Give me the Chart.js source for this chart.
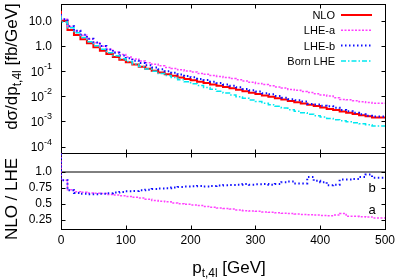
<!DOCTYPE html>
<html>
<head>
<meta charset="utf-8">
<script src="https://cdn.jsdelivr.net/npm/chart.js@4.4.1/dist/chart.umd.min.js"></script>
<style>
  html, body { margin: 0; padding: 0; background: #fff; }
  #wrap { width: 399px; height: 279px; position: relative; }
</style>
</head>
<body>
<div id="wrap"><canvas id="chart"></canvas></div>
<script>
// Histogram bins (lower edges, GeV), 10 GeV wide, last edge 500
const binLow = [0, 10, 20, 30, 40, 50, 60, 70, 80, 90,
  100, 110, 120, 130, 140, 150, 160, 170, 180, 190,
  200, 210, 220, 230, 240, 250, 260, 270, 280, 290,
  300, 310, 320, 330, 340, 350, 360, 370, 380, 390,
  400, 410, 420, 430, 440, 450, 460, 470, 480, 490];
const binEnd = 500;

// dsigma/dpt [fb/GeV]
const nlo = [25.1, 10.0, 4.27, 2.69, 1.82, 1.26, 0.891, 0.646, 0.479, 0.363,
  0.282, 0.224, 0.182, 0.148, 0.123, 0.102, 0.0871, 0.0741, 0.0646, 0.0562,
  0.0490, 0.0437, 0.0380, 0.0339, 0.0295, 0.0263, 0.0234, 0.0209, 0.0182, 0.0158,
  0.0138, 0.0123, 0.0107, 0.00955, 0.00832, 0.00741, 0.00646, 0.00575, 0.00513, 0.00457,
  0.00407, 0.00355, 0.00316, 0.00282, 0.00251, 0.00224, 0.00200, 0.00178, 0.00162, 0.00145];
const lheA = [18.6, 11.5, 5.93, 3.90, 2.67, 1.88, 1.34, 0.977, 0.741, 0.571,
  0.451, 0.364, 0.303, 0.251, 0.216, 0.186, 0.161, 0.140, 0.126, 0.112,
  0.100, 0.0910, 0.0809, 0.0745, 0.0664, 0.0612, 0.0552, 0.0504, 0.0455, 0.0406,
  0.0359, 0.0324, 0.0290, 0.0262, 0.0234, 0.0212, 0.0187, 0.0172, 0.0155, 0.0141,
  0.0127, 0.0113, 0.0102, 0.00881, 0.00740, 0.00720, 0.00665, 0.00603, 0.00560, 0.00526];
const lheB = [18.6, 11.5, 6.01, 4.02, 2.78, 1.94, 1.37, 0.986, 0.719, 0.538,
  0.411, 0.322, 0.260, 0.208, 0.171, 0.140, 0.118, 0.0995, 0.0855, 0.0735,
  0.0637, 0.0564, 0.0488, 0.0441, 0.0378, 0.0335, 0.0296, 0.0263, 0.0228, 0.0196,
  0.0173, 0.0153, 0.0132, 0.0119, 0.0103, 0.00883, 0.00760, 0.00701, 0.00625, 0.00497,
  0.00474, 0.00423, 0.00400, 0.00352, 0.00286, 0.00255, 0.00224, 0.00193, 0.00169, 0.00159];
const bornLhe = [15.8, 8.91, 5.25, 3.31, 2.14, 1.45, 1.02, 0.741, 0.537, 0.407,
  0.309, 0.240, 0.191, 0.151, 0.120, 0.0977, 0.0794, 0.0661, 0.0550, 0.0457,
  0.0380, 0.0316, 0.0269, 0.0224, 0.0191, 0.0158, 0.0135, 0.0112, 0.00955, 0.00832,
  0.00708, 0.00617, 0.00525, 0.00457, 0.00398, 0.00339, 0.00295, 0.00257, 0.00224, 0.00195,
  0.00170, 0.00151, 0.00132, 0.00117, 0.00107, 0.000977, 0.000891, 0.000813, 0.000741, 0.000661];

// NLO / LHE ratios
const ratioA = [1.35, 0.87, 0.72, 0.69, 0.68, 0.67, 0.665, 0.66, 0.645, 0.635,
  0.625, 0.615, 0.60, 0.59, 0.57, 0.55, 0.54, 0.53, 0.51, 0.50,
  0.49, 0.48, 0.47, 0.455, 0.445, 0.43, 0.425, 0.415, 0.40, 0.39,
  0.385, 0.38, 0.37, 0.365, 0.355, 0.35, 0.345, 0.335, 0.33, 0.325,
  0.32, 0.315, 0.31, 0.32, 0.345, 0.30, 0.30, 0.295, 0.29, 0.275];
const ratioB = [1.35, 0.87, 0.71, 0.67, 0.655, 0.65, 0.65, 0.655, 0.665, 0.675,
  0.685, 0.695, 0.70, 0.71, 0.72, 0.73, 0.74, 0.745, 0.755, 0.765,
  0.77, 0.775, 0.78, 0.77, 0.78, 0.785, 0.79, 0.795, 0.80, 0.81,
  0.80, 0.805, 0.81, 0.80, 0.81, 0.84, 0.85, 0.82, 0.82, 0.92,
  0.86, 0.84, 0.79, 0.80, 0.88, 0.88, 0.89, 0.92, 0.96, 0.91];
const ratioRef = 1.0;

// Ticks
const xTicks = [0, 100, 200, 300, 400, 500];
const upperTicks = [10, 1, 0.1, 0.01, 0.001, 0.0001];
const upperTickLabels = ['10.0', '1.0', '10^-1', '10^-2', '10^-3', '10^-4'];
const ratioTicks = [0.25, 0.5, 0.75, 1.0];
const ratioTickLabels = ['0.25', '0.5', '0.75', '1.0'];

const FONT = '"Liberation Sans", Arial, Helvetica, sans-serif';
const TICK = 4;

function steps(vals) {
  const pts = binLow.map((x, i) => ({ x: x, y: vals[i] }));
  pts.push({ x: binEnd, y: vals[vals.length - 1] });
  return pts;
}

const base = { stepped: 'after', pointRadius: 0, fill: false, tension: 0, borderCapStyle: 'butt' };

const datasets = [
  { ...base, label: 'NLO', data: steps(nlo), yAxisID: 'y', borderColor: '#ff0000', borderWidth: 2, order: 4 },
  { ...base, label: 'LHE-a', data: steps(lheA), yAxisID: 'y', borderColor: '#ff40ff', borderWidth: 1.5, borderDash: [2, 1.5], order: 3 },
  { ...base, label: 'LHE-b', data: steps(lheB), yAxisID: 'y', borderColor: '#1010ff', borderWidth: 2, borderDash: [1.5, 2.5], order: 2 },
  { ...base, label: 'Born LHE', data: steps(bornLhe), yAxisID: 'y', borderColor: '#00e8f0', borderWidth: 1.5, borderDash: [5, 2, 1.5, 2], order: 1 },
  { ...base, label: 'ref', data: [{ x: xTicks[0], y: ratioRef }, { x: binEnd, y: ratioRef }], yAxisID: 'y2', borderColor: '#000', borderWidth: 1, order: 9 },
  { ...base, label: 'a', data: steps(ratioA), yAxisID: 'y2', borderColor: '#ff40ff', borderWidth: 1.5, borderDash: [2, 1.5], order: 8 },
  { ...base, label: 'b', data: steps(ratioB), yAxisID: 'y2', borderColor: '#1010ff', borderWidth: 2, borderDash: [1.5, 2.5], order: 7 }
];

// draws text parts [text, 'sub'|'sup'|null] starting at x (left aligned), baseline y
function drawParts(ctx, parts, x, y, size, subSize) {
  let cx = x;
  parts.forEach(p => {
    const small = p[1] !== null;
    ctx.font = (small ? subSize : size) + 'px ' + FONT;
    const dy = p[1] === 'sub' ? size * 0.25 : (p[1] === 'sup' ? -size * 0.55 : 0);
    ctx.fillText(p[0], cx, y + dy);
    cx += ctx.measureText(p[0]).width;
  });
  return cx - x;
}
function partsWidth(ctx, parts, size, subSize) {
  let w = 0;
  parts.forEach(p => {
    ctx.font = (p[1] !== null ? subSize : size) + 'px ' + FONT;
    w += ctx.measureText(p[0]).width;
  });
  return w;
}

const framePlugin = {
  id: 'frame',
  beforeDatasetsDraw(chart) {
    const { ctx, scales: { x, y, y2 } } = chart;
    ctx.save();
    ctx.strokeStyle = '#000';
    ctx.lineWidth = 1;
    const L = Math.round(x.left) + 0.5, R = Math.round(x.right) + 0.5;
    [y, y2].forEach(s => {
      const T = Math.round(s.top) + 0.5, B = Math.round(s.bottom) + 0.5;
      ctx.strokeRect(L, T, R - L, B - T);
      ctx.beginPath();
      xTicks.forEach(v => {
        const px = Math.round(x.getPixelForValue(v)) + 0.5;
        ctx.moveTo(px, T); ctx.lineTo(px, T + TICK);
        ctx.moveTo(px, B); ctx.lineTo(px, B - TICK);
      });
      s.ticks.forEach(t => {
        const py = Math.round(s.getPixelForValue(t.value)) + 0.5;
        ctx.moveTo(L, py); ctx.lineTo(L + TICK, py);
        ctx.moveTo(R, py); ctx.lineTo(R - TICK, py);
      });
      ctx.stroke();
    });
    ctx.restore();
  },
  afterDraw(chart) {
    const { ctx, chartArea, scales: { x, y, y2 } } = chart;
    ctx.save();
    ctx.fillStyle = '#000';
    ctx.textBaseline = 'alphabetic';
    ctx.textAlign = 'left';

    // upper y tick labels with exponents
    upperTicks.forEach((v, i) => {
      const py = y.getPixelForValue(v);
      const lab = upperTickLabels[i].split('^');
      const parts = lab.length > 1 ? [[lab[0], null], [lab[1], 'sup']] : [[lab[0], null]];
      const w = partsWidth(ctx, parts, 12, 9);
      if (lab.length > 1) {
        ctx.font = '12px ' + FONT;
        ctx.fillText(lab[0], 52 - w, py + 4.5);
        const bw = ctx.measureText(lab[0]).width;
        ctx.font = '9px ' + FONT;
        ctx.fillText(lab[1], 52 - w + bw, py - 2);
      } else {
        drawParts(ctx, parts, 52 - w, py + 4.5, 12, 9);
      }
    });

    // axis titles
    const xt = [['p', null], ['t,4l', 'sub'], [' [GeV]', null]];
    const xw = partsWidth(ctx, xt, 17, 12);
    drawParts(ctx, xt, 229 - xw / 2, 273, 17, 12);

    const yt = [['dσ/dp', null], ['t,4l', 'sub'], [' [fb/GeV]', null]];
    const yw = partsWidth(ctx, yt, 17, 12);
    ctx.save();
    ctx.translate(16.5, (y.top + y.bottom) / 2 - 12);
    ctx.rotate(-Math.PI / 2);
    drawParts(ctx, yt, -yw / 2, 0, 17, 12);
    ctx.restore();

    const rt = [['NLO / LHE', null]];
    const rw = partsWidth(ctx, rt, 17, 12);
    ctx.save();
    ctx.translate(16.5, (y2.top + y2.bottom) / 2 + 8);
    ctx.rotate(-Math.PI / 2);
    drawParts(ctx, rt, -rw / 2, 0, 17, 12);
    ctx.restore();

    // legend (upper panel datasets)
    ctx.font = '11px ' + FONT;
    ctx.textAlign = 'right';
    chart.data.datasets.filter(d => d.yAxisID === 'y').forEach((d, i) => {
      const by = chartArea.top + 15 + i * 15.3;
      ctx.fillStyle = '#000';
      ctx.fillText(d.label, chartArea.right - 50, by);
      ctx.beginPath();
      ctx.strokeStyle = d.borderColor;
      ctx.lineWidth = d.borderWidth;
      ctx.setLineDash(d.borderDash || []);
      ctx.moveTo(chartArea.right - 44, by - 4);
      ctx.lineTo(chartArea.right - 13, by - 4);
      ctx.stroke();
      ctx.setLineDash([]);
    });

    // curve labels in ratio panel
    ctx.fillStyle = '#000';
    ctx.font = '13px ' + FONT;
    ctx.textAlign = 'center';
    ctx.textBaseline = 'middle';
    ctx.fillText('b', x.getPixelForValue(480), y2.getPixelForValue(0.735));
    ctx.fillText('a', x.getPixelForValue(480), y2.getPixelForValue(0.40));
    ctx.restore();
  }
};

function fixed(width, height) {
  return s => {
    if (width !== null) s.width = width;
    if (height !== null) s.height = height;
    s.paddingTop = 0; s.paddingBottom = 0; s.paddingLeft = 0; s.paddingRight = 0;
  };
}

new Chart(document.getElementById('chart'), {
  type: 'line',
  data: { datasets: datasets },
  options: {
    responsive: true,
    maintainAspectRatio: false,
    animation: false,
    devicePixelRatio: 1,
    layout: { padding: { top: 4, right: 14, left: 0, bottom: 0 } },
    plugins: { legend: { display: false }, tooltip: { enabled: false } },
    scales: {
      x: {
        type: 'linear', position: 'bottom', min: 0, max: 500, bounds: 'data',
        grid: { display: false, drawTicks: false }, border: { display: false },
        ticks: { color: '#000', font: { family: FONT, size: 12 }, padding: 4, maxRotation: 0, autoSkip: false },
        afterBuildTicks: s => { s.ticks = xTicks.map(v => ({ value: v })); },
        afterFit: fixed(null, 50)
      },
      y: {
        type: 'logarithmic', position: 'left', stack: 'panels', stackWeight: 149, weight: 1,
        min: 5.6e-5, max: 46, bounds: 'data',
        grid: { display: false, drawTicks: false }, border: { display: false },
        ticks: { display: false },
        afterBuildTicks: s => { s.ticks = upperTicks.map(v => ({ value: v })); },
        afterFit: fixed(61, null)
      },
      y2: {
        type: 'linear', position: 'left', stack: 'panels', stackWeight: 76, weight: 0,
        min: 0.1, max: 1.3, bounds: 'data',
        grid: { display: false, drawTicks: false }, border: { display: false },
        ticks: { color: '#000', font: { family: FONT, size: 12 }, padding: 9, autoSkip: false,
          callback: (v, i) => ratioTickLabels[i] },
        afterBuildTicks: s => { s.ticks = ratioTicks.map(v => ({ value: v })); },
        afterFit: fixed(61, null)
      }
    }
  },
  plugins: [framePlugin]
});
</script>
</body>
</html>
